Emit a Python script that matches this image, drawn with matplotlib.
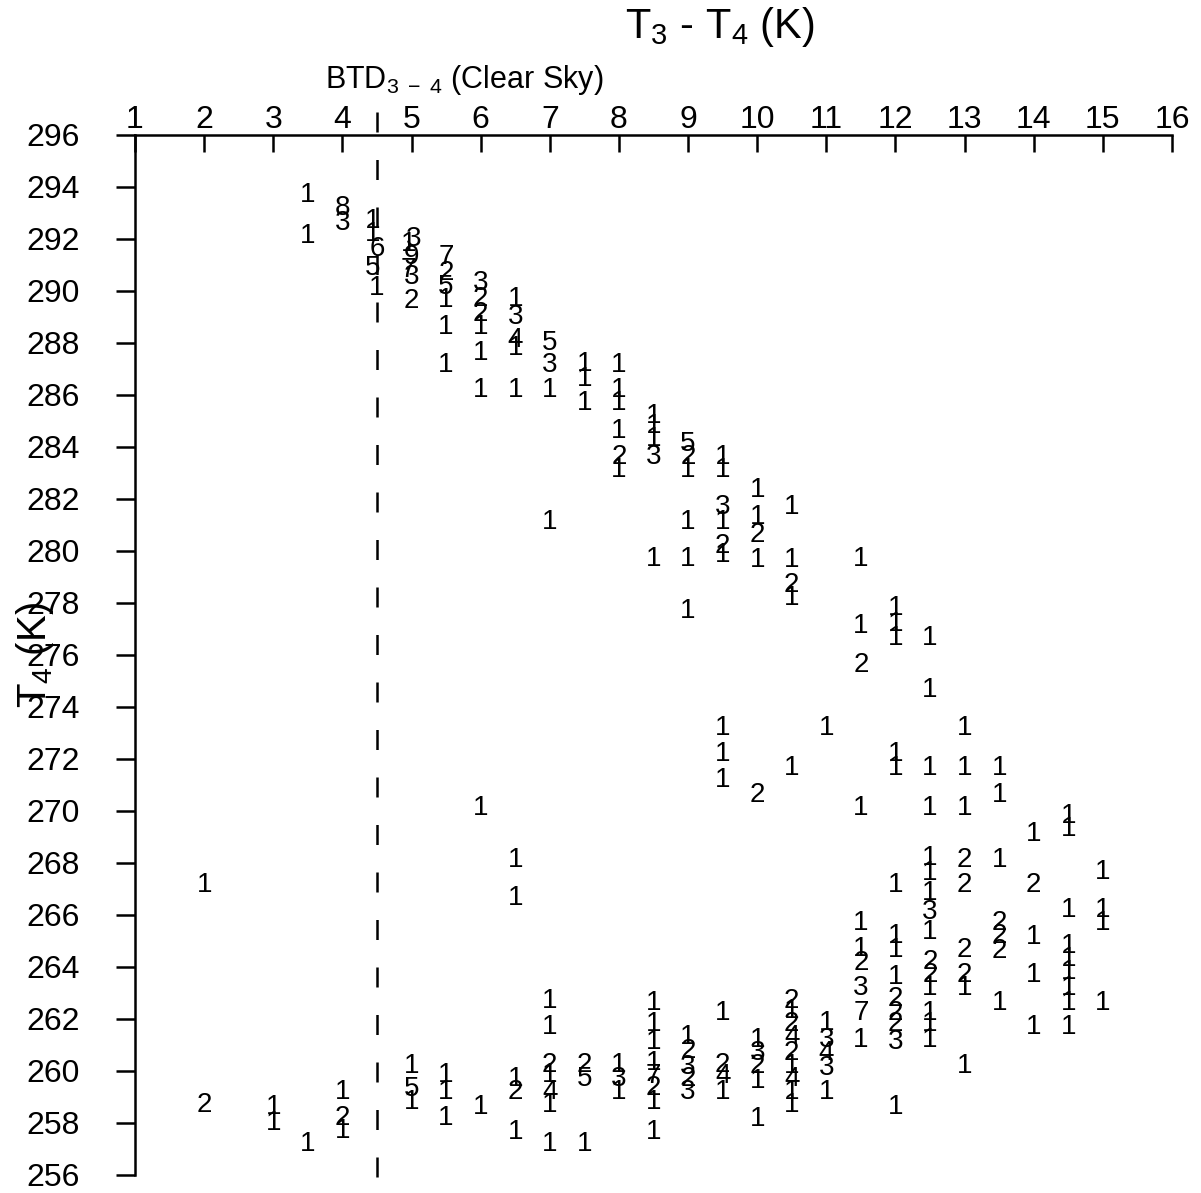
import matplotlib
matplotlib.use("Agg")
from matplotlib import pyplot as plt

plt.rcParams["font.family"] = ["Liberation Sans", "DejaVu Sans"]
plt.rcParams["mathtext.fontset"] = "custom"
plt.rcParams["mathtext.rm"] = "Liberation Sans"
plt.rcParams["mathtext.it"] = "Liberation Sans"

# Counts of cloudy pixels per (T3 - T4, T4) bin
btd_x = (
    [2, 2, 3, 3, 3.5, 3.5, 3.5, 4, 4, 4, 4, 4]
    + [4.43, 4.43, 4.5, 4.43, 4.5]
    + [5.03, 4.96, 5, 4.96, 5, 5, 5, 5, 5]
    + [5.5] * 9
    + [6] * 8
    + [6.5] * 10
    + [7] * 11
    + [7.5] * 6
    + [8] * 9
    + [8.5] * 13
    + [9] * 11
    + [9.5] * 13
    + [10] * 10
    + [10.5] * 14
    + [11] * 6
    + [11.5] * 10
    + [12] * 14
    + [12.5] * 15
    + [13] * 9
    + [13.5] * 7
    + [14] * 5
    + [14.5] * 9
    + [15] * 4
)
t4 = (
    [267.15, 258.7, 258.6, 258.0, 293.7, 292.1, 257.2, 293.2, 292.6, 259.2, 258.2, 257.7]
    + [292.7, 292.2, 291.6, 290.9, 290.1]
    + [292.0, 291.8, 291.3, 290.8, 290.55, 289.6, 260.2, 259.3, 258.8]
    + [291.3, 290.7, 290.15, 289.65, 288.6, 287.15, 259.85, 259.2, 258.2]
    + [290.3, 289.7, 289.1, 288.6, 287.6, 286.2, 270.1, 258.6]
    + [289.7, 289.0, 288.1, 287.8, 286.2, 268.1, 266.65, 259.7, 259.2, 257.65]
    + [288.0, 287.15, 286.2, 281.1, 262.7, 261.7, 260.25, 259.85, 259.2, 258.7, 257.2]
    + [287.2, 286.6, 285.7, 260.25, 259.7, 257.2]
    + [287.15, 286.2, 285.7, 284.6, 283.6, 283.1, 260.25, 259.7, 259.2]
    + [285.2, 284.8, 284.3, 283.6, 279.7, 262.6, 261.8, 261.1, 260.3, 259.8, 259.35, 258.8, 257.65]
    + [284.1, 283.6, 283.1, 281.1, 279.7, 277.7, 261.3, 260.75, 260.15, 259.7, 259.2]
    + [283.6, 283.1, 281.7, 281.1, 280.2, 279.85, 273.2, 272.2, 271.2, 262.25, 260.25, 259.8, 259.2]
    + [282.35, 281.3, 280.6, 279.65, 270.6, 261.2, 260.7, 260.2, 259.6, 258.15]
    + [281.7, 279.65, 278.7, 278.2, 271.65, 262.7, 262.3, 261.8, 261.3, 260.7, 260.2, 259.7, 259.2, 258.7]
    + [273.2, 261.85, 261.2, 260.7, 260.1, 259.2]
    + [279.7, 277.1, 275.6, 270.1, 265.7, 264.7, 264.15, 263.2, 262.25, 261.2]
    + [277.8, 277.2, 276.65, 272.2, 271.65, 267.15, 265.2, 264.65, 263.6, 262.75, 262.25, 261.8, 261.1, 258.6]
    + [276.65, 274.65, 271.65, 270.1, 268.2, 267.6, 266.85, 266.1, 265.35, 264.2, 263.7, 263.2, 262.25, 261.8, 261.2]
    + [273.2, 271.65, 270.1, 268.1, 267.15, 264.65, 263.7, 263.2, 260.2]
    + [271.65, 270.6, 268.1, 265.7, 265.2, 264.6, 262.6]
    + [269.1, 267.15, 265.15, 263.7, 261.7]
    + [269.8, 269.3, 266.2, 264.8, 264.3, 263.8, 263.2, 262.6, 261.7]
    + [267.65, 266.2, 265.7, 262.6]
)
counts = (
    [1, 2, 1, 1, 1, 1, 1, 8, 3, 1, 2, 1]
    + [1, 1, 6, 5, 1]
    + [3, 1, 9, 7, 3, 2, 1, 5, 1]
    + [7, 2, 5, 1, 1, 1, 1, 1, 1]
    + [3, 2, 2, 1, 1, 1, 1, 1]
    + [1, 3, 4, 1, 1, 1, 1, 1, 2, 1]
    + [5, 3, 1, 1, 1, 1, 2, 1, 4, 1, 1]
    + [1, 1, 1, 2, 5, 1]
    + [1, 1, 1, 1, 2, 1, 1, 3, 1]
    + [1, 1, 1, 3, 1, 1, 1, 1, 1, 7, 2, 1, 1]
    + [5, 2, 1, 1, 1, 1, 1, 2, 3, 2, 3]
    + [1, 1, 3, 1, 2, 1, 1, 1, 1, 1, 2, 4, 1]
    + [1, 1, 2, 1, 2, 1, 3, 2, 1, 1]
    + [1, 1, 2, 1, 1, 2, 1, 2, 4, 2, 1, 4, 1, 1]
    + [1, 1, 3, 4, 3, 1]
    + [1, 1, 2, 1, 1, 1, 2, 3, 7, 1]
    + [1, 1, 1, 1, 1, 1, 1, 1, 1, 2, 2, 2, 3, 1]
    + [1, 1, 1, 1, 1, 1, 1, 3, 1, 2, 2, 1, 1, 1, 1]
    + [1, 1, 1, 2, 2, 2, 2, 1, 1]
    + [1, 1, 1, 2, 2, 2, 1]
    + [1, 2, 1, 1, 1]
    + [1, 1, 1, 1, 1, 1, 1, 1, 1]
    + [1, 1, 1, 1]
)

BTD_CLEAR = 4.5
x_ticks = list(range(1, 17))
y_ticks = list(range(256, 297, 2))

fig = plt.figure(figsize=(12.01, 11.93), dpi=100)
ax = fig.add_axes([135 / 1201, 1 - 1175 / 1193, (1172 - 135) / 1201, (1175 - 135) / 1193])

for x, y, n in zip(btd_x, t4, counts):
    ax.text(x, y, str(n), ha="center", va="center", fontsize=20)

# clear sky threshold, drawn top to bottom so the dashes start under the label
ax.plot([BTD_CLEAR, BTD_CLEAR], [296.9, 255.6], color="black", lw=1.8,
        dashes=(8, 11), clip_on=False)

ax.set_xlim(1, 16)
ax.set_ylim(256, 296)
ax.set_xticks(x_ticks)
ax.set_yticks(y_ticks)
ax.xaxis.tick_top()
ax.tick_params(axis="both", width=1.8, labelsize=23)
ax.tick_params(axis="x", direction="in", length=12, pad=0)
ax.tick_params(axis="y", direction="out", length=14, pad=26)
for s in ["bottom", "right"]:
    ax.spines[s].set_visible(False)
for s in ["top", "left"]:
    ax.spines[s].set_linewidth(1.8)

fig.text(720 / 1201, 1 - 27 / 1193, r"T$_3$ - T$_4$ (K)", ha="center", va="center", fontsize=30)
fig.text(325 / 1201, 1 - 80 / 1193, r"BTD$_{3\ -\ 4}$ (Clear Sky)", ha="left", va="center", fontsize=22)
fig.text(35 / 1201, 1 - 655 / 1193, r"T$_4$ (K)", ha="center", va="center", fontsize=29, rotation=90)

fig.savefig("out.png", dpi=100)
